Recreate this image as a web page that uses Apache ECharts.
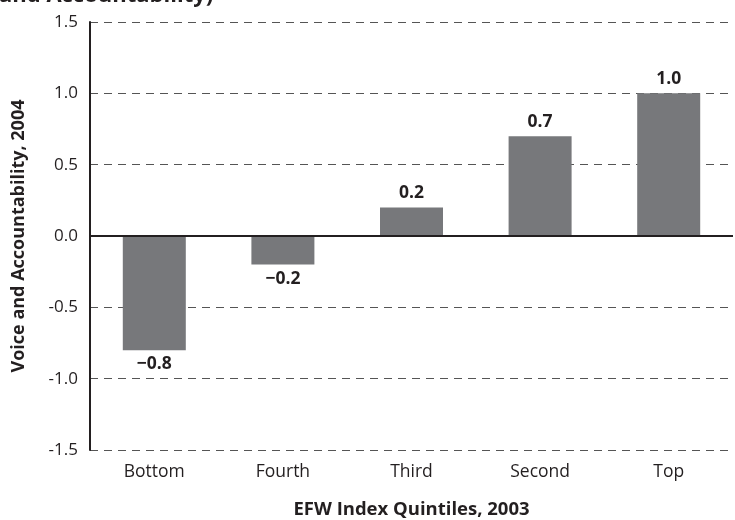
<!DOCTYPE html>
<html>
<head>
<meta charset="utf-8">
<script src="https://cdn.jsdelivr.net/npm/echarts@6/dist/echarts.min.js"></script>
<style>
  html, body { margin: 0; padding: 0; background: #fff; }
  #chart { width: 735px; height: 520px; }
</style>
</head>
<body>
<div id="chart"></div>
<script>
var categories = ['Bottom', 'Fourth', 'Third', 'Second', 'Top'];
var values = [-0.8, -0.2, 0.2, 0.7, 1.0];
var yTicks = [-1.5, -1.0, -0.5, 0.0, 0.5, 1.0, 1.5];

var font = '"Open Sans", "Noto Sans", sans-serif';
var chart = echarts.init(document.getElementById('chart'));

// value label: minus sign in place of hyphen, one decimal
function fmtLabel(v) {
    var s = Math.abs(v).toFixed(1);
    return v < 0 ? '\u2212' + s : s;
}

var option = {
    animation: false,
    textStyle: { fontFamily: font },
    graphic: [{
        type: 'text',
        left: -1,
        top: -15,
        style: {
            text: 'and Accountability)',
            font: 'bold 22px ' + font,
            fill: '#231f20'
        }
    }],
    grid: { left: 90, right: 2, top: 22, bottom: 70, outerBoundsMode: 'none', containLabel: false },
    xAxis: {
        type: 'category',
        data: categories,
        axisLine: { show: false },
        axisTick: { show: false },
        axisLabel: { color: '#231f20', fontSize: 17.5, margin: 13 },
        name: 'EFW Index Quintiles, 2003',
        nameLocation: 'middle',
        nameGap: 50,
        nameTextStyle: { color: '#231f20', fontSize: 18.5, fontWeight: 'bold' }
    },
    yAxis: {
        type: 'value',
        min: yTicks[0],
        max: yTicks[yTicks.length - 1],
        interval: 0.5,
        axisLine: { show: true, lineStyle: { color: '#231f20', width: 2 } },
        axisTick: { show: false },
        axisLabel: {
            color: '#231f20', fontSize: 17, margin: 12,
            formatter: function (v) { return v.toFixed(1); }
        },
        splitLine: { show: true, lineStyle: { color: '#555', type: [8, 6], width: 1 } },
        name: 'Voice and Accountability, 2004',
        nameLocation: 'middle',
        nameGap: 62,
        nameTextStyle: { color: '#231f20', fontSize: 18, fontWeight: 'bold' }
    },
    series: [{
        type: 'bar',
        // negative labels sit below the bar end, positive above
        data: values.map(function (v) {
            return { value: v, label: { position: v < 0 ? 'bottom' : 'top' } };
        }),
        barWidth: 63,
        itemStyle: { color: '#77787b' },
        label: {
            show: true,
            color: '#231f20',
            fontSize: 17.5,
            fontWeight: 'bold',
            distance: 5,
            formatter: function (p) { return fmtLabel(p.value); }
        },
        markLine: {
            silent: true,
            symbol: 'none',
            label: { show: false },
            lineStyle: { color: '#231f20', type: 'solid', width: 2 },
            data: [{ yAxis: 0 }]
        }
    }]
};

chart.setOption(option);
</script>
</body>
</html>
